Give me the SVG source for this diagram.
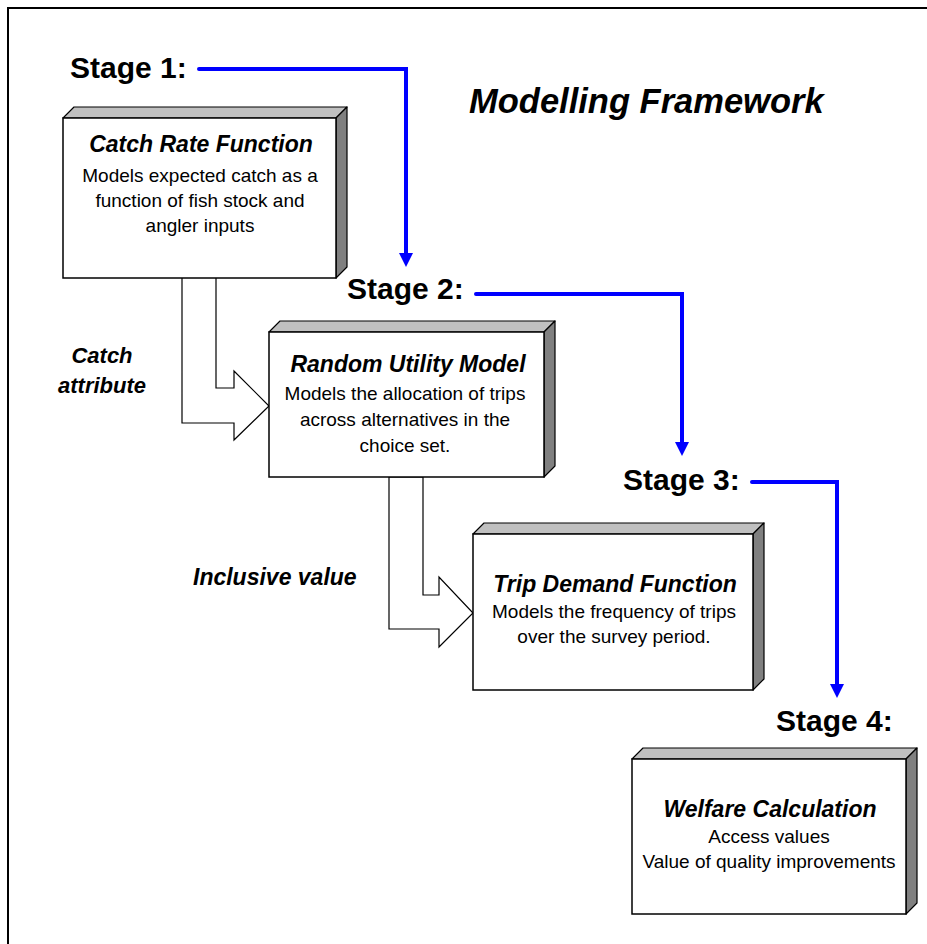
<svg xmlns="http://www.w3.org/2000/svg" width="927" height="944" viewBox="0 0 927 944">
<style>
.frame{fill:none;stroke:#000;stroke-width:2}
.front{fill:#fff;stroke:#000;stroke-width:1.5}
.top{fill:#c0c0c0;stroke:#000;stroke-width:1.2;stroke-linejoin:round}
.side{fill:#808080;stroke:#000;stroke-width:1.2;stroke-linejoin:round}
.blk{fill:#fff;stroke:#000;stroke-width:1.2}
.flow{fill:none;stroke:#0000ff;stroke-width:4;stroke-linecap:round;stroke-linejoin:miter}
.stage{font-family:"Liberation Sans",Arial,sans-serif;font-weight:bold;font-size:30px;fill:#000}
.title{font-family:"Liberation Sans",Arial,sans-serif;font-weight:bold;font-style:italic;font-size:34.5px;fill:#000}
.bt{font-family:"Liberation Sans",Arial,sans-serif;font-weight:bold;font-style:italic;font-size:23px;fill:#000;text-anchor:middle}
.lbl{font-family:"Liberation Sans",Arial,sans-serif;font-weight:bold;font-style:italic;font-size:22px;fill:#000}
.lbl2{font-family:"Liberation Sans",Arial,sans-serif;font-weight:bold;font-style:italic;font-size:23px;fill:#000}
.body{font-family:"Liberation Sans",Arial,sans-serif;font-size:19px;fill:#000;text-anchor:middle}
</style>
<defs>
<marker id="ad" markerUnits="userSpaceOnUse" markerWidth="16" markerHeight="16" viewBox="0 0 16 16" refX="2" refY="8" orient="auto">
<path d="M2,1 L16,8 L2,15 Z" fill="#0000ff"/>
</marker>
</defs>
<rect width="927" height="944" fill="#fff"/>
<rect class="frame" x="8" y="8" width="1000" height="1000"/>

<text class="title" x="469" y="113">Modelling Framework</text>

<g id="connectors">
<polygon id="blockarrow1" class="blk" points="182,277 216,277 216,388 234,388 234,371 269,406 234,440 234,423 182,423"/>
<polygon id="blockarrow2" class="blk" points="389,477 423,477 423,595 439,595 439,577 473,613 439,647 439,629 389,629"/>
<path class="flow" d="M199,69 H406 V253" marker-end="url(#ad)"/>
<path class="flow" d="M476,294 H682 V442" marker-end="url(#ad)"/>
<path class="flow" d="M752,482 H837 V684" marker-end="url(#ad)"/>
</g>

<g id="stage1"><text class="stage" x="70" y="78">Stage 1:</text></g>
<g id="stage2"><text class="stage" x="347" y="299">Stage 2:</text></g>
<g id="stage3"><text class="stage" x="623" y="490">Stage 3:</text></g>
<g id="stage4"><text class="stage" x="776" y="731">Stage 4:</text></g>

<g id="label-catch">
<text class="lbl" x="102" y="363" text-anchor="middle">Catch</text>
<text class="lbl" x="102" y="393" text-anchor="middle">attribute</text>
</g>
<g id="label-inclusive"><text class="lbl2" x="193" y="585">Inclusive value</text></g>

<g id="catch-rate">
<polygon class="top" points="63,118 74,107 347,107 336,118"/>
<polygon class="side" points="336,118 347,107 347,267 336,278"/>
<rect class="front" x="63" y="118" width="273" height="160"/>
<text class="bt" x="201" y="152">Catch Rate Function</text>
<text class="body" x="200" y="182">Models expected catch as a</text>
<text class="body" x="200" y="207">function of fish stock and</text>
<text class="body" x="200" y="232">angler inputs</text>
</g>

<g id="random-utility">
<polygon class="top" points="269,332 280,321 555,321 544,332"/>
<polygon class="side" points="544,332 555,321 555,466 544,477"/>
<rect class="front" x="269" y="332" width="275" height="145"/>
<text class="bt" x="408" y="372">Random Utility Model</text>
<text class="body" x="405" y="400">Models the allocation of trips</text>
<text class="body" x="405" y="426">across alternatives in the</text>
<text class="body" x="405" y="452">choice set.</text>
</g>

<g id="trip-demand">
<polygon class="top" points="473,534 484,523 764,523 753,534"/>
<polygon class="side" points="753,534 764,523 764,679 753,690"/>
<rect class="front" x="473" y="534" width="280" height="156"/>
<text class="bt" x="615" y="592">Trip Demand Function</text>
<text class="body" x="614" y="618">Models the frequency of trips</text>
<text class="body" x="614" y="643">over the survey period.</text>
</g>

<g id="welfare">
<polygon class="top" points="632,759 643,748 917,748 906,759"/>
<polygon class="side" points="906,759 917,748 917,903 906,914"/>
<rect class="front" x="632" y="759" width="274" height="155"/>
<text class="bt" x="770" y="817">Welfare Calculation</text>
<text class="body" x="769" y="843">Access values</text>
<text class="body" x="769" y="868">Value of quality improvements</text>
</g>
</svg>
